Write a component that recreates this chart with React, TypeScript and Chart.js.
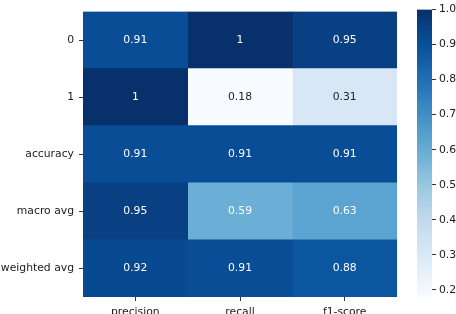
import React, { useEffect, useRef } from "react";
import { Chart, registerables } from "chart.js";

Chart.register(...registerables);

const rowLabels = ["0", "1", "accuracy", "macro avg", "weighted avg"];
const colLabels = ["precision", "recall", "f1-score"];
const precision = [0.91, 1, 0.91, 0.95, 0.92];
const recall = [1, 0.18, 0.91, 0.59, 0.91];
const f1Score = [0.95, 0.31, 0.91, 0.63, 0.88];
const colorbarTicks = [0.2, 0.3, 0.4, 0.5, 0.6, 0.7, 0.8, 0.9, 1.0];
const vmin = 0.18;
const vmax = 1.0;

const columns = [precision, recall, f1Score];

const BLUES = [
  [247, 251, 255],
  [222, 235, 247],
  [198, 219, 239],
  [158, 202, 225],
  [107, 174, 214],
  [66, 146, 198],
  [33, 113, 181],
  [8, 81, 156],
  [8, 48, 107],
];

function bluesRgb(t: number): number[] {
  const c = Math.max(0, Math.min(1, t));
  const s = c * (BLUES.length - 1);
  const i = Math.floor(s);
  if (i >= BLUES.length - 1) return BLUES[BLUES.length - 1];
  const f = s - i;
  const a = BLUES[i];
  const b = BLUES[i + 1];
  return [0, 1, 2].map((k) => a[k] + (b[k] - a[k]) * f);
}
function rgbStr(c: number[]) {
  return `rgb(${Math.round(c[0])},${Math.round(c[1])},${Math.round(c[2])})`;
}
function norm(v: number) {
  return (v - vmin) / (vmax - vmin);
}
function luminance(c: number[]) {
  const lin = c.map((x) => {
    const s = x / 255;
    return s <= 0.03928 ? s / 12.92 : Math.pow((s + 0.055) / 1.055, 2.4);
  });
  return 0.2126 * lin[0] + 0.7152 * lin[1] + 0.0722 * lin[2];
}

const FONT_SIZE = 10.8;
const FONT = { family: "'DejaVu Sans', sans-serif", size: FONT_SIZE };
const TEXT = "#1a1a1a";
const ANNOT_DARK = "#262626";

const cellText = {
  id: "cellText",
  afterDatasetsDraw(chart: any) {
    const ctx = chart.ctx;
    ctx.save();
    ctx.font = `${FONT_SIZE}px 'DejaVu Sans', sans-serif`;
    ctx.textAlign = "center";
    ctx.textBaseline = "middle";
    chart.data.datasets.forEach((ds: any, di: number) => {
      const meta = chart.getDatasetMeta(di);
      meta.data.forEach((el: any, i: number) => {
        const v = ds.values[i];
        const { x, y, base } = el.getProps(["x", "y", "base"], true);
        const lum = luminance(bluesRgb(norm(v)));
        ctx.fillStyle = lum > 0.408 ? ANNOT_DARK : "#ffffff";
        ctx.fillText(String(v), (x + base) / 2, y);
      });
    });
    ctx.restore();
  },
};

export default function App() {
  const mainRef = useRef<HTMLCanvasElement>(null);
  const barRef = useRef<HTMLCanvasElement>(null);

  useEffect(() => {
    const main = new Chart(mainRef.current as HTMLCanvasElement, {
      type: "bar",
      data: {
        labels: rowLabels,
        datasets: columns.map((vals, ci) => ({
          label: colLabels[ci],
          data: vals.map(() => 1),
          values: vals,
          backgroundColor: vals.map((v) => rgbStr(bluesRgb(norm(v)))),
          borderWidth: 0,
          barPercentage: 1,
          categoryPercentage: 1,
        })) as any,
      },
      options: {
        indexAxis: "y",
        animation: false,
        responsive: false,
        maintainAspectRatio: false,
        layout: { padding: { top: 6, right: 13, left: 0, bottom: 0 } },
        plugins: { legend: { display: false }, tooltip: { enabled: false } },
        scales: {
          x: {
            type: "linear",
            stacked: true,
            min: 0,
            max: colLabels.length,
            afterBuildTicks: (axis: any) => {
              axis.ticks = colLabels.map((_, i) => ({ value: i + 0.5 }));
            },
            ticks: {
              callback: (v: any) => colLabels[Math.floor(Number(v))],
              font: FONT,
              color: TEXT,
              padding: 5,
              maxRotation: 0,
              autoSkip: false,
            },
            grid: { drawOnChartArea: false, tickLength: 4, color: "#333" },
            border: { display: false },
            afterFit: (s: any) => {
              s.height = 17;
            },
          },
          y: {
            type: "category",
            stacked: true,
            grid: { offset: false, drawOnChartArea: false, tickLength: 4, color: "#333" },
            border: { display: false },
            ticks: { font: FONT, color: TEXT, padding: 5 },
            afterFit: (s: any) => {
              s.width = 83;
            },
          },
        },
      } as any,
      plugins: [cellText],
    });

    const bar = new Chart(barRef.current as HTMLCanvasElement, {
      type: "bar",
      data: {
        labels: [""],
        datasets: [
          {
            data: [[vmin, vmax]],
            borderWidth: 0,
            barPercentage: 1,
            categoryPercentage: 1,
            backgroundColor: (ctx: any) => {
              const chart = ctx.chart;
              const ys = chart.scales.y;
              if (!ys || !chart.chartArea) return "#08306b";
              const y0 = ys.getPixelForValue(vmin);
              const y1 = ys.getPixelForValue(vmax);
              const g = chart.ctx.createLinearGradient(0, y0, 0, y1);
              for (let k = 0; k <= 32; k++) {
                g.addColorStop(k / 32, rgbStr(bluesRgb(k / 32)));
              }
              return g;
            },
          },
        ] as any,
      },
      options: {
        animation: false,
        responsive: false,
        maintainAspectRatio: false,
        layout: { padding: { left: 7, top: 6, bottom: 17, right: 0 } },
        plugins: { legend: { display: false }, tooltip: { enabled: false } },
        scales: {
          x: { display: false },
          y: {
            position: "right",
            min: vmin,
            max: vmax,
            afterBuildTicks: (axis: any) => {
              axis.ticks = colorbarTicks.map((v) => ({ value: v }));
            },
            afterFit: (s: any) => {
              s.width = 24;
            },
            ticks: {
              callback: (v: any) => Number(v).toFixed(1),
              font: FONT,
              color: TEXT,
              padding: 3,
            },
            grid: { drawOnChartArea: false, tickLength: 4, color: "#333" },
            border: { display: false },
          },
        },
      } as any,
    });

    return () => {
      main.destroy();
      bar.destroy();
    };
  }, []);

  return (
    <div
      style={{
        position: "fixed",
        left: 0,
        top: 0,
        width: 456,
        height: 314,
        background: "#fff",
      }}
    >
      <canvas
        ref={mainRef}
        width={410}
        height={314}
        style={{ position: "absolute", left: 0, top: 0, width: 410, height: 314 }}
      />
      <canvas
        ref={barRef}
        width={46}
        height={314}
        style={{ position: "absolute", left: 410, top: 0, width: 46, height: 314 }}
      />
    </div>
  );
}
